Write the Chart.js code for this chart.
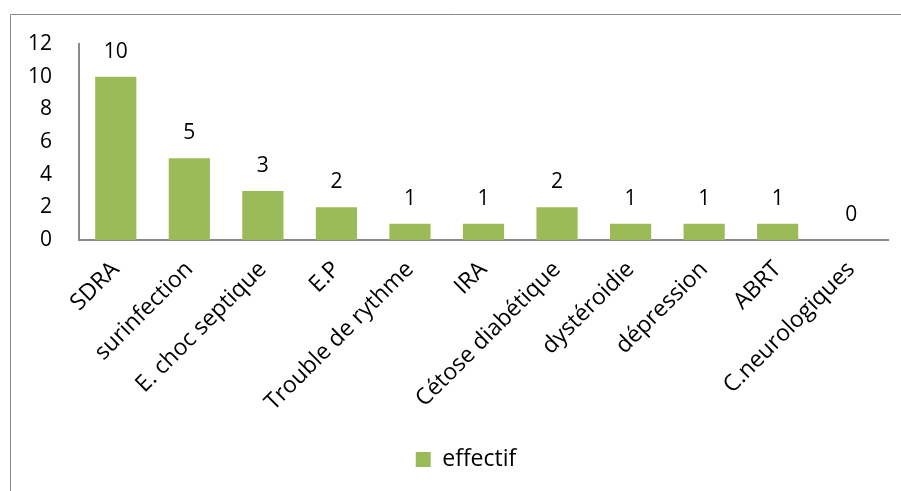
<!DOCTYPE html>
<html>
<head>
<meta charset="utf-8">
<script src="https://cdn.jsdelivr.net/npm/chart.js@4/dist/chart.umd.min.js"></script>
<style>
  html, body { margin: 0; padding: 0; background: #fff; overflow: hidden; }
  #wrap { position: absolute; left: 0; top: 0; width: 901px; height: 491px; }
</style>
</head>
<body>
<div id="wrap"><canvas id="chart" width="901" height="491"></canvas></div>
<script>
var categories = ['SDRA', 'surinfection', 'E. choc septique', 'E.P', 'Trouble de rythme', 'IRA',
  'Cétose diabétique', 'dystéroidie', 'dépression', 'ABRT', 'C.neurologiques'];
var effectif = [10, 5, 3, 2, 1, 1, 2, 1, 1, 1, 0];
var yTicks = [0, 2, 4, 6, 8, 10, 12];

var FONT = '"Open Sans", Lato, sans-serif';

// outer frame of the chart object
var framePlugin = {
  id: 'frame',
  beforeDraw: function (chart) {
    var ctx = chart.ctx;
    ctx.save();
    ctx.strokeStyle = '#8a8a8a';
    ctx.lineWidth = 1;
    ctx.beginPath();
    ctx.moveTo(10.5, chart.height);
    ctx.lineTo(10.5, 14.5);
    ctx.lineTo(chart.width, 14.5);
    ctx.stroke();
    ctx.restore();
  },
  // legend sits a bit right of centre in the original
  afterLayout: function (chart) {
    if (chart.legend) chart.legend.left += 44;
  }
};

// value labels above the bars
var valuePlugin = {
  id: 'values',
  afterDatasetsDraw: function (chart) {
    var ctx = chart.ctx;
    var meta = chart.getDatasetMeta(0);
    ctx.save();
    ctx.fillStyle = '#000';
    ctx.font = '21px ' + FONT;
    ctx.textAlign = 'center';
    ctx.textBaseline = 'alphabetic';
    meta.data.forEach(function (bar, i) {
      ctx.fillText(String(effectif[i]), bar.x, bar.y - 19);
    });
    ctx.restore();
  }
};

new Chart(document.getElementById('chart'), {
  type: 'bar',
  data: {
    labels: categories,
    datasets: [{
      label: 'effectif',
      data: effectif,
      backgroundColor: '#9bbb59',
      borderWidth: 0,
      categoryPercentage: 1,
      barPercentage: 0.56
    }]
  },
  options: {
    responsive: false,
    animation: false,
    layout: { padding: { left: 0, right: 13, top: 44, bottom: 10 } },
    plugins: {
      tooltip: { enabled: false },
      legend: {
        position: 'bottom',
        labels: {
          color: '#000',
          font: { family: FONT, size: 23 },
          boxWidth: 15,
          boxHeight: 15,
          padding: 10
        }
      }
    },
    scales: {
      x: {
        grid: { display: false, drawTicks: false },
        border: { color: '#8a8a8a', width: 2 },
        ticks: {
          color: '#000',
          font: { family: FONT, size: 23 },
          minRotation: 45,
          maxRotation: 45,
          padding: 16,
          autoSkip: false
        },
        afterFit: function (scale) { scale.height = 198; }
      },
      y: {
        min: 0,
        max: 12,
        grid: { display: false, drawTicks: false },
        border: { color: '#8a8a8a', width: 2 },
        afterBuildTicks: function (scale) {
          scale.ticks = yTicks.map(function (v) { return { value: v }; });
        },
        ticks: {
          color: '#000',
          font: { family: FONT, size: 21 },
          padding: 27
        },
        afterFit: function (scale) { scale.width = 79; }
      }
    }
  },
  plugins: [framePlugin, valuePlugin]
});
</script>
</body>
</html>
